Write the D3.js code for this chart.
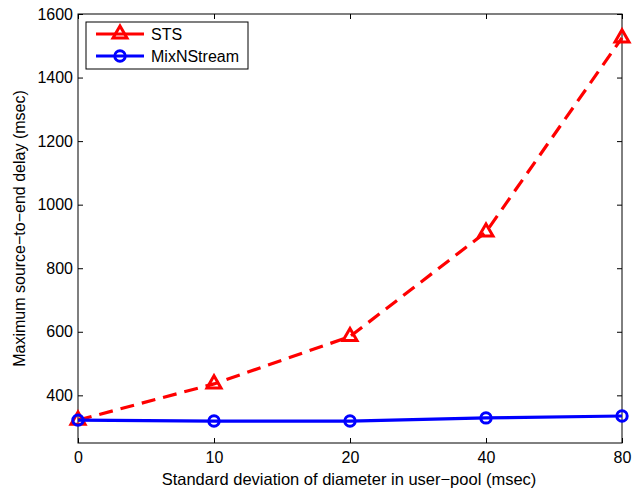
<!DOCTYPE html>
<html><head><meta charset="utf-8">
<script src="https://cdn.jsdelivr.net/npm/d3@7"></script>
<style>body{margin:0;background:#fff}svg{display:block}text{font-family:"Liberation Sans",Arial,sans-serif}</style>
</head><body>
<svg id="c" width="644" height="489"></svg>
<script>
const categories = ["0","10","20","40","80"];
const stsValues = [322, 436, 585, 914, 1525];
const mixValues = [322, 319, 319, 329, 335];
const yTicks = [400, 600, 800, 1000, 1200, 1400, 1600];
const seriesNames = ["STS", "MixNStream"];

const svg = d3.select("#c");
const L = 78, R = 622, T = 14, B = 443;
const FS = 16;
const x = d3.scalePoint().domain(categories).range([L, R]);
const y = d3.scaleLinear().domain([250, 1600]).range([B, T]);

const ax = svg.append("g").attr("transform", `translate(0,${B})`)
  .call(d3.axisBottom(x).tickSize(-5).tickPadding(9));
const axT = svg.append("g").attr("transform", `translate(0,${T})`)
  .call(d3.axisTop(x).tickSize(-5).tickFormat(""));
const ay = svg.append("g").attr("transform", `translate(${L},0)`)
  .call(d3.axisLeft(y).tickValues(yTicks).tickFormat(d3.format("d")).tickSize(-5).tickPadding(5));
const ayR = svg.append("g").attr("transform", `translate(${R},0)`)
  .call(d3.axisRight(y).tickValues(yTicks).tickSize(-5).tickFormat(""));
[ax, axT, ay, ayR].forEach(g => {
  g.select(".domain").remove();
  g.selectAll("line").attr("stroke", "#000").attr("stroke-width", 1);
  g.selectAll("text").attr("font-size", FS).attr("fill", "#000");
});
svg.append("rect").attr("x", L).attr("y", T).attr("width", R - L).attr("height", B - T)
  .attr("fill", "none").attr("stroke", "#000").attr("stroke-width", 1);

svg.append("text").attr("x", 349).attr("y", 485).attr("text-anchor", "middle")
  .attr("font-size", 16.5).text("Standard deviation of diameter in user\u2212pool (msec)");
svg.append("text").attr("transform", `translate(25,${(T + B) / 2}) rotate(-90)`)
  .attr("text-anchor", "middle").attr("font-size", FS)
  .text("Maximum source\u2212to\u2212end delay (msec)");

const line = d3.line().x((d, i) => x(categories[i])).y(d => y(d));
const tri = d3.symbol().type(d3.symbolTriangle).size(85);

function drawSeries(vals, color, dash, marker) {
  svg.append("path").datum(vals).attr("d", line).attr("fill", "none")
    .attr("stroke", color).attr("stroke-width", 3.2).attr("stroke-dasharray", dash);
  vals.forEach((v, i) => marker(x(categories[i]), y(v)));
}
function triMark(cx, cy) {
  svg.append("path").attr("d", tri()).attr("transform", `translate(${cx},${cy})`)
    .attr("fill", "none").attr("stroke", "#ff0000").attr("stroke-width", 3);
}
function circMark(cx, cy) {
  svg.append("circle").attr("cx", cx).attr("cy", cy).attr("r", 5.2)
    .attr("fill", "none").attr("stroke", "#0000ff").attr("stroke-width", 3);
}
drawSeries(stsValues, "#ff0000", "14,8", triMark);
drawSeries(mixValues, "#0000ff", null, circMark);

svg.append("rect").attr("x", 86).attr("y", 22).attr("width", 162).attr("height", 47)
  .attr("fill", "#fff").attr("stroke", "#000").attr("stroke-width", 1);
const leg = [{n: seriesNames[0], c: "#ff0000", m: triMark, y: 34},
             {n: seriesNames[1], c: "#0000ff", m: circMark, y: 56}];
leg.forEach(d => {
  svg.append("line").attr("x1", 96).attr("x2", 144).attr("y1", d.y).attr("y2", d.y)
    .attr("stroke", d.c).attr("stroke-width", 3.2);
  d.m(120, d.y);
  svg.append("text").attr("x", 151).attr("y", d.y + 6).attr("font-size", FS).text(d.n);
});
</script>
</body></html>
